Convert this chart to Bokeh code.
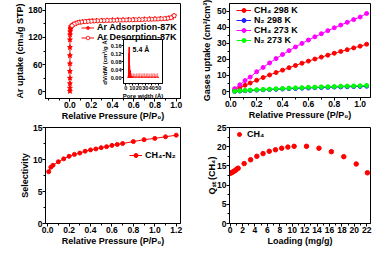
from bokeh.plotting import figure
from bokeh.models import (Range1d, Label, Legend, LegendItem, FixedTicker,
                          NumeralTickFormatter)
from bokeh.layouts import column, row
from bokeh.embed import file_html
from bokeh.resources import INLINE

FONT = "Liberation Sans"
RED = "#FF0000"

# ---------------- panel a data ----------------
a_ads_x = [0.0, 0.0, 0.0, 0.0, 0.0, 0.0, 0.0, 0.0, 0.0, 0.001, 0.002, 0.004, 0.006,
           0.01, 0.02, 0.03, 0.05, 0.07, 0.09, 0.12, 0.15, 0.18, 0.21, 0.25, 0.3,
           0.35, 0.4, 0.45, 0.5, 0.55, 0.6, 0.65, 0.7, 0.75, 0.8, 0.85, 0.9, 0.93,
           0.96, 0.98]
a_ads_y = [1, 8, 18, 30, 45, 62, 80, 98, 115, 126, 133, 138, 141,
           144, 147, 149, 151, 152.5, 153.5, 154.5, 155.3, 156, 156.5, 157, 157.5,
           158, 158.4, 158.8, 159.1, 159.4, 159.7, 160, 160.3, 160.6, 161, 161.4,
           162, 162.8, 164.5, 168]
a_des_x = [0.98, 0.95, 0.92, 0.89, 0.86, 0.83, 0.80, 0.77, 0.74, 0.71, 0.68, 0.65,
           0.62, 0.59, 0.56, 0.53, 0.50, 0.47, 0.44, 0.41, 0.38, 0.35, 0.32, 0.29,
           0.26, 0.23, 0.20, 0.17, 0.14, 0.11, 0.08, 0.06, 0.04, 0.02]
a_des_y = [168, 163.5, 162.2, 161.6, 161.1, 160.8, 160.5, 160.2, 160, 159.8, 159.6,
           159.4, 159.2, 159, 158.8, 158.6, 158.4, 158.2, 158, 157.8, 157.6, 157.4,
           157.2, 157, 156.7, 156.4, 156, 155.5, 155, 154.2, 153, 151.5, 149.5, 146]
a_xticks = [0.0, 0.2, 0.4, 0.6, 0.8, 1.0]
a_xminor = [-0.2, -0.1, 0.1, 0.3, 0.5, 0.7, 0.9]
a_yticks = [0, 60, 120, 180]
a_yminor = [30, 90, 150]

# inset: pore size distribution
psd_x = [3.4, 3.8, 4.2, 4.6, 5.0, 5.4, 5.8, 6.2, 6.6, 7.0, 7.4, 7.8, 8.5, 9.5,
         11.0, 15.0, 20.0, 25.0, 30.0, 35.0, 40.0, 45.0, 50.0]
psd_y = [0.000, 0.003, 0.012, 0.050, 0.120, 0.152, 0.060, 0.018, 0.035, 0.028,
         0.014, 0.008, 0.005, 0.004, 0.003, 0.002, 0.002, 0.002, 0.002, 0.002,
         0.002, 0.002, 0.002]
tail_x = [9, 11.5, 14, 16.5, 19, 21.5, 24, 26.5, 29, 31.5, 34, 36.5, 39, 41.5,
          44, 46.5, 49]
tail_y = [0.02, 0.02, 0.018, 0.02, 0.019, 0.02, 0.018, 0.02, 0.02, 0.019, 0.02,
          0.018, 0.02, 0.019, 0.02, 0.018, 0.02]
in_xticks = [0, 10, 20, 30, 40, 50]
in_xminor = [5, 15, 25, 35, 45]
in_yticks = [0.0, 0.04, 0.08, 0.12, 0.16]

# ---------------- panel b data ----------------
b_x = [0.03, 0.07, 0.11, 0.15, 0.2, 0.25, 0.3, 0.35, 0.4, 0.45, 0.5, 0.55, 0.6,
       0.65, 0.7, 0.75, 0.8, 0.85, 0.9, 0.95, 1.0, 1.05]
b_ch4_298 = [0.8, 2.4, 3.9, 5.3, 7.0, 8.7, 10.3, 11.8, 13.3, 14.8, 16.2, 17.6,
             18.9, 20.2, 21.4, 22.6, 23.8, 24.9, 26.0, 27.1, 28.2, 29.4]
b_n2_298 = [0.1, 0.3, 0.5, 0.7, 0.9, 1.1, 1.3, 1.4, 1.6, 1.8, 1.9, 2.1, 2.2, 2.4,
            2.5, 2.6, 2.8, 2.9, 3.0, 3.1, 3.2, 3.3]
b_ch4_273 = [1.8, 4.2, 6.8, 9.0, 12.3, 15.0, 17.8, 20.5, 23.0, 25.4, 27.7, 29.9,
             32.0, 34.0, 35.9, 37.8, 39.6, 41.3, 43.0, 44.7, 46.3, 48.5]
b_n2_273 = [0.2, 0.5, 0.7, 0.9, 1.1, 1.3, 1.5, 1.7, 1.9, 2.1, 2.3, 2.4, 2.6, 2.7,
            2.9, 3.0, 3.1, 3.3, 3.4, 3.5, 3.6, 3.8]
b_xticks = [0.0, 0.2, 0.4, 0.6, 0.8, 1.0]
b_xminor = [0.1, 0.3, 0.5, 0.7, 0.9]
b_yticks = [0, 10, 20, 30, 40, 50]
b_yminor = [5, 15, 25, 35, 45]

# ---------------- panel c data ----------------
c_x = [0.01, 0.03, 0.05, 0.1, 0.15, 0.2, 0.25, 0.3, 0.35, 0.4, 0.45, 0.5, 0.55,
       0.6, 0.65, 0.7, 0.8, 0.9, 1.0, 1.1, 1.2]
c_sel = [8.1, 8.8, 9.1, 9.65, 10.1, 10.5, 10.8, 11.0, 11.3, 11.5, 11.65, 11.85,
         12.0, 12.2, 12.35, 12.5, 12.8, 13.1, 13.3, 13.55, 13.8]
c_xticks = [0.0, 0.2, 0.4, 0.6, 0.8, 1.0, 1.2]
c_xminor = [0.1, 0.3, 0.5, 0.7, 0.9, 1.1]
c_yticks = [0, 5, 10, 15]
c_yminor = [2.5, 7.5, 12.5]

# ---------------- panel d data ----------------
d_x = [0.1, 0.3, 0.5, 0.7, 0.9, 1.1, 1.3, 2.26, 3.3, 4.3, 5.3, 6.3, 7.3, 8.3,
       9.3, 10.3, 12.3, 14.3, 16.3, 18.3, 20.3, 22.1]
d_qst = [13.1, 13.3, 13.5, 13.7, 13.9, 14.2, 14.4, 15.6, 16.6, 17.5, 18.2, 18.8,
         19.2, 19.6, 19.9, 20.1, 20.1, 19.6, 18.7, 17.4, 15.5, 13.2]
d_xticks = [0, 2, 4, 6, 8, 10, 12, 14, 16, 18, 20, 22]
d_xminor = [1, 3, 5, 7, 9, 11, 13, 15, 17, 19, 21]
d_yticks = [0, 5, 10, 15, 20, 25]
d_yminor = [2.5, 7.5, 12.5, 17.5, 22.5]


def make_fig(w, h, xr, yr, borders):
    l, r, t, b = borders
    p = figure(width=w, height=h, x_range=Range1d(*xr), y_range=Range1d(*yr),
               output_backend="svg", toolbar_location=None,
               min_border_left=l, min_border_right=r, min_border_top=t,
               min_border_bottom=b)
    p.grid.visible = False
    p.outline_line_color = "black"
    p.outline_line_width = 1
    p.background_fill_color = None
    p.border_fill_color = None
    return p


def style_axes(p, xt, xm, yt, ym, xfmt, yfmt, xlabel, ylabel,
               tick_size="8.5px", label_size="9px", tick_out=3, minor_out=2,
               xstand=0, ystand=0):
    p.xaxis.ticker = FixedTicker(ticks=xt, minor_ticks=xm)
    p.yaxis.ticker = FixedTicker(ticks=yt, minor_ticks=ym)
    if xfmt:
        p.xaxis.formatter = NumeralTickFormatter(format=xfmt)
    if yfmt:
        p.yaxis.formatter = NumeralTickFormatter(format=yfmt)
    p.xaxis.axis_label = xlabel
    p.yaxis.axis_label = ylabel
    for ax in (p.xaxis[0], p.yaxis[0]):
        ax.axis_line_color = "black"
        ax.axis_line_width = 1
        ax.major_tick_line_color = "black"
        ax.minor_tick_line_color = "black"
        ax.major_tick_in = 0
        ax.major_tick_out = tick_out
        ax.minor_tick_in = 0
        ax.minor_tick_out = minor_out
        ax.major_label_text_font = FONT
        ax.major_label_text_font_style = "bold"
        ax.major_label_text_font_size = tick_size
        ax.major_label_text_color = "black"
        ax.axis_label_text_font = FONT
        ax.axis_label_text_font_style = "bold"
        ax.axis_label_text_font_size = label_size
        ax.axis_label_text_color = "black"
        ax.major_label_standoff = 0
    p.xaxis[0].axis_label_standoff = xstand
    p.yaxis[0].axis_label_standoff = ystand


def panel_letter(p, text, x, y):
    p.add_layout(Label(x=x, y=y, x_units="screen", y_units="screen", text=text,
                       text_font=FONT, text_font_style="bold",
                       text_font_size="11.5px", text_baseline="top",
                       text_color="black"))


def legend(p, items, loc, glyph_w=15, row_h=10, size="8.5px", standoff=3):
    lg = Legend(items=items, location=loc, glyph_width=glyph_w, glyph_height=row_h,
                label_height=row_h, label_standoff=standoff, spacing=0,
                padding=0, margin=0, border_line_color=None,
                background_fill_alpha=0, label_text_font=FONT,
                label_text_font_style="bold", label_text_font_size=size,
                label_text_color="black")
    p.add_layout(lg)


# ---------------- panel a ----------------
pa = make_fig(188, 124, (-0.23, 1.04), (-15, 195), (26, 8, 3, 26))
r_ads_l = pa.line(a_ads_x, a_ads_y, line_color=RED, line_width=1)
r_ads_m = pa.scatter(a_ads_x, a_ads_y, marker="star", size=5, fill_color=RED,
                     line_color=RED)
r_des_l = pa.line(a_des_x, a_des_y, line_color=RED, line_width=1)
r_des_m = pa.scatter(a_des_x, a_des_y, marker="circle", size=4, fill_color="white",
                     line_color=RED, line_width=0.8)
style_axes(pa, a_xticks, a_xminor, a_yticks, a_yminor, "0.0", "0",
           "Relative Pressure (P/P\u2080)", "Ar uptake (cm\u2083/g STP)", ystand=0)
legend(pa, [LegendItem(label="Ar Adsorption-87K", renderers=[r_ads_l, r_ads_m]),
            LegendItem(label="Ar Desorption-87K", renderers=[r_des_l, r_des_m])],
       (36, 56), glyph_w=13, row_h=9, size="9px")
panel_letter(pa, "a)", -26, 94)

# inset
pin = make_fig(92, 64, (-3.5, 56.5), (-0.03, 0.19), (24, 4, 2, 16))
pin.vbar(x=tail_x, top=tail_y, width=0.35, color="#FF8080", alpha=0.8)
pin.vbar(x=psd_x, top=psd_y, width=0.4, color=RED)
pin.line(psd_x, psd_y, line_color=RED, line_width=1)
style_axes(pin, in_xticks, in_xminor, in_yticks, [], "0", "0.00",
           "Pore width (\u00c5)", "dV/dW (cm\u00b3/g \u00c5)", tick_size="5.5px",
           label_size="6px", tick_out=2, minor_out=1)
pin.add_layout(Label(x=10.5, y=0.139, text="5.4 \u00c5", text_font=FONT,
                     text_font_style="bold", text_font_size="7px",
                     text_baseline="middle", text_color="black"))
pin.margin = (-87, 0, 23, 78)

# ---------------- panel b ----------------
pb = make_fig(188, 124, (-0.01, 1.08), (-3.7, 54.7), (41, 6, 3, 27))
cols = [("#FF0000", b_ch4_298, "CH\u2084 298 K"),
        ("#2020FF", b_n2_298, "N\u2082 298 K"),
        ("#FF00FF", b_ch4_273, "CH\u2084 273 K"),
        ("#00FF00", b_n2_273, "N\u2082 273 K")]
b_items = []
for c, ys, lab in cols:
    rl = pb.line(b_x, ys, line_color=c, line_width=1)
    rm = pb.scatter(b_x, ys, marker="circle", size=4, fill_color=c, line_color=c)
    b_items.append(LegendItem(label=lab, renderers=[rl, rm]))
style_axes(pb, b_xticks, b_xminor, b_yticks, b_yminor, "0.0", "0",
           "Relative Pressure (P/P\u2080)", "Gases uptake (cm\u00b3/cm\u00b3)",
           ystand=2)
legend(pb, b_items, (7, 52), glyph_w=15, row_h=10, size="9px")
panel_letter(pb, "b)", -41, 94)

# ---------------- panel c ----------------
pc = make_fig(188, 124, (-0.02, 1.24), (0, 15), (45, 3, 3, 25))
rcl = pc.line(c_x, c_sel, line_color=RED, line_width=1)
rcm = pc.scatter(c_x, c_sel, marker="circle", size=4, fill_color=RED, line_color=RED)
style_axes(pc, c_xticks, c_xminor, c_yticks, c_yminor, "0.0", "0",
           "Relative Pressure (P/P\u2080)", "Selectivity", ystand=0)
legend(pc, [LegendItem(label="CH\u2084-N\u2082", renderers=[rcl, rcm])], (84, 63),
       glyph_w=13, row_h=10, size="9px")
panel_letter(pc, "c)", -45, 97)

# ---------------- panel d ----------------
pd_ = make_fig(188, 124, (-0.1, 22.6), (0, 25), (41, 3, 3, 25))
rdm = pd_.scatter(d_x, d_qst, marker="circle", size=4.5, fill_color=RED,
                  line_color=RED)
style_axes(pd_, d_xticks, d_xminor, d_yticks, d_yminor, "0", "0",
           "Loading (mg/g)", "Q\u209b\u209c (CH\u2084)", ystand=-3)
legend(pd_, [LegendItem(label="CH\u2084", renderers=[rdm])], (5, 84), glyph_w=10,
       row_h=10, size="9px")
panel_letter(pd_, "d)", -41, 96)

layout = row(column(pa, pin, pc), column(pb, pd_))
open("out.html", "w").write(file_html(layout, INLINE))
